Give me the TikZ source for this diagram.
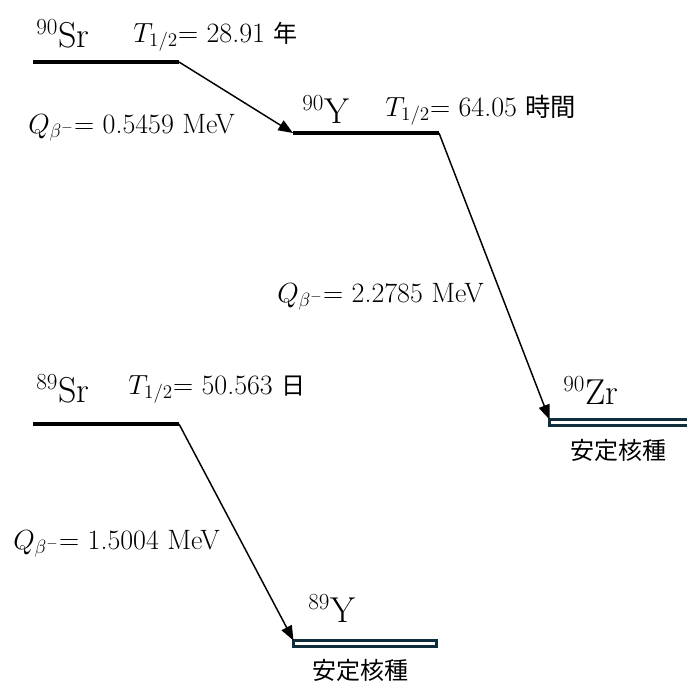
\documentclass[tikz,border=0pt]{standalone}
\usepackage{fontspec}
\newfontfamily\jpfont{Noto Sans CJK JP}
\usetikzlibrary{arrows.meta,positioning}
\definecolor{stabline}{RGB}{16,45,60}
\begin{document}
\begin{tikzpicture}[
  x=0.75pt, y=-0.75pt,
  lvl/.style={line width=3.4pt},
  stab/.style={draw=stabline, line width=2pt, fill=white},
  decay/.style={-{Triangle[length=11pt,width=8.5pt]}, line width=1.1pt},
  nuc/.style={anchor=base west, inner sep=0pt,
              font=\fontsize{27}{30}\selectfont},
  val/.style={anchor=base west, inner sep=0pt,
              font=\fontsize{21}{24}\selectfont},
  jp/.style={inner sep=0pt, font=\fontsize{18}{20}\jpfont}]
\clip (0,0) rectangle (687,682);
\coordinate (sr90a) at (33,62);
\coordinate (sr90b) at (179,62);
\coordinate (y90a) at (293,133);
\coordinate (y90b) at (439,133);
\coordinate (zr90) at (549.5,419.5);
\coordinate (sr89a) at (33,424);
\coordinate (sr89b) at (179,424);
\coordinate (y89) at (293.5,640.5);
\draw[lvl] (sr90a) -- (sr90b);
\draw[lvl] (y90a) -- (y90b);
\draw[lvl] (sr89a) -- (sr89b);
\draw[stab] (zr90) rectangle ++(150,6);
\draw[stab] (y89) rectangle ++(143,6);
\node[nuc] (sr90lab) at (36,47) {$^{90}$Sr};
\node[val] (sr90t) at (133,42) {$T_{1/2}$= 28.91 {\jpfont\fontsize{18}{20}\selectfont 年}};
\node[val] (q1) at (28,133) {$Q_{\beta^-}$= 0.5459 MeV};
\node[nuc] (y90lab) at (302,123) {$^{90}$Y};
\node[val] (y90t) at (385,116) {$T_{1/2}$= 64.05 {\jpfont\fontsize{19}{20}\selectfont 時間}};
\node[val] (q2) at (277,302) {$Q_{\beta^-}$= 2.2785 MeV};
\node[nuc] (zr90lab) at (563,404) {$^{90}$Zr};
\node[jp] (zr90st) at (618,450) {安定核種};
\node[nuc] (sr89lab) at (36,402) {$^{89}$Sr};
\node[val] (sr89t) at (128,394) {$T_{1/2}$= 50.563 {\jpfont\fontsize{18}{20}\selectfont 日}};
\node[val] (q3) at (13,549) {$Q_{\beta^-}$= 1.5004 MeV};
\node[nuc] (y89lab) at (308,622) {$^{89}$Y};
\node[jp] (y89st) at (360,670) {安定核種};
\draw[decay] (sr90b) -- (y90a);
\draw[decay] (y90b) -- (zr90);
\draw[decay] (sr89b) -- (y89);
\end{tikzpicture}
\end{document}
